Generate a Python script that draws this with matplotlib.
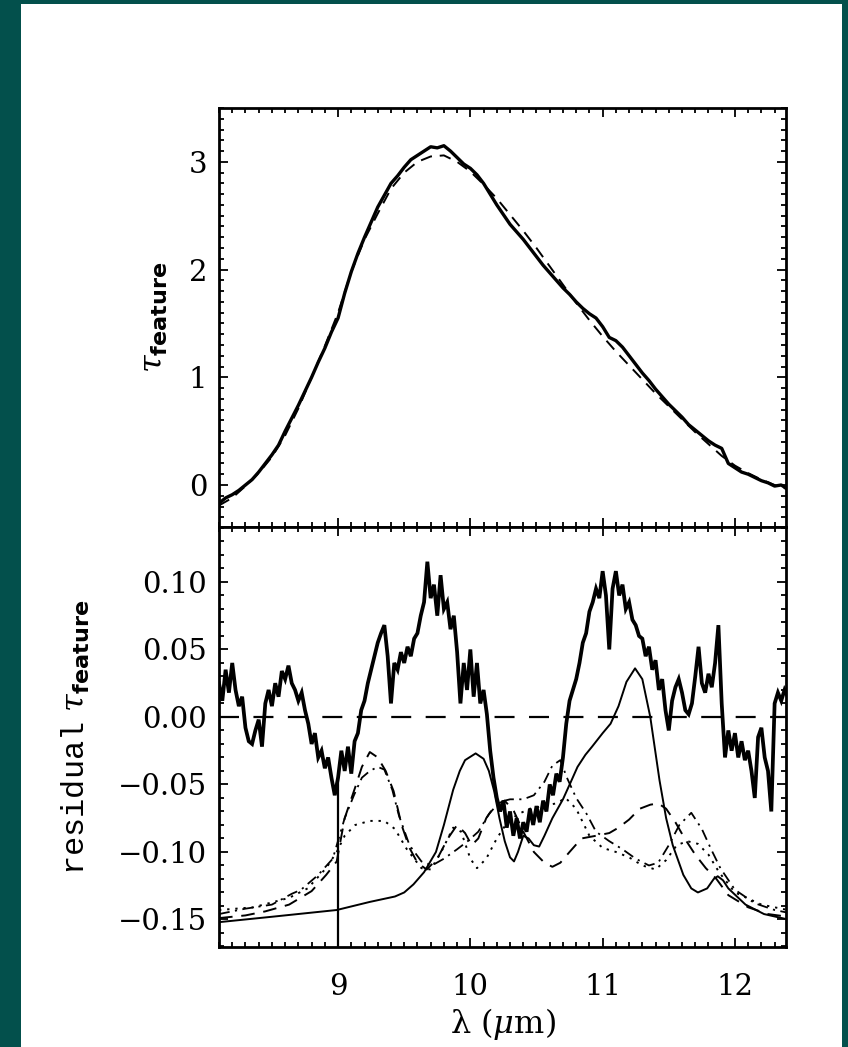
import numpy as np
import matplotlib
matplotlib.use('Agg')
import matplotlib.pyplot as plt
from matplotlib.ticker import MultipleLocator, FuncFormatter
from matplotlib.patches import Rectangle

plt.rcParams.update({
    'mathtext.fontset': 'custom',
    'mathtext.rm': 'DejaVu Serif',
    'mathtext.it': 'DejaVu Serif:italic',
    'mathtext.bf': 'DejaVu Sans:bold',
    'mathtext.tt': 'Liberation Mono',
    'mathtext.sf': 'DejaVu Sans',
    'font.family': 'DejaVu Serif',
})

# ---------------- data ----------------
# upper panel: observed optical depth (0.05 um sampling) and model (0.1 um sampling)
lam_obs = np.linspace(8.10, 12.40, 87)
tau_obs = [
    -0.17, -0.12, -0.09, -0.05, 0.00, 0.05, 0.12, 0.20, 0.28, 0.37,
    0.50, 0.62, 0.74, 0.87, 1.00, 1.14, 1.27, 1.42, 1.55, 1.78,
    1.98, 2.15, 2.30, 2.44, 2.58, 2.69, 2.80, 2.87, 2.95, 3.02,
    3.06, 3.10, 3.14, 3.13, 3.15, 3.10, 3.04, 2.98, 2.94, 2.88,
    2.80, 2.70, 2.60, 2.51, 2.42, 2.35, 2.28, 2.20, 2.12, 2.04,
    1.97, 1.90, 1.83, 1.77, 1.70, 1.64, 1.59, 1.55, 1.47, 1.37,
    1.34, 1.28, 1.20, 1.12, 1.04, 0.97, 0.89, 0.82, 0.75, 0.69,
    0.63, 0.56, 0.51, 0.46, 0.41, 0.37, 0.34, 0.20, 0.16, 0.12,
    0.10, 0.07, 0.04, 0.02, -0.01, 0.00, -0.04,
]
lam_mod = np.linspace(8.10, 12.40, 44)
tau_mod = [
    -0.19, -0.12, -0.01, 0.11, 0.26, 0.46, 0.71, 1.00, 1.29, 1.60,
    1.98, 2.28, 2.52, 2.75, 2.90, 3.00, 3.05, 3.06, 3.00, 2.91,
    2.79, 2.66, 2.51, 2.36, 2.20, 2.03, 1.86, 1.69, 1.53, 1.38,
    1.24, 1.11, 0.98, 0.85, 0.73, 0.61, 0.49, 0.38, 0.27, 0.18,
    0.11, 0.05, 0.00, -0.04,
]

# lower panel: residual (0.025 um sampling)
lam_res = np.linspace(8.10, 12.40, 173)
residual = [
    0.025, 0.012, 0.035, 0.018, 0.040, 0.020, 0.008, 0.015, -0.008, -0.018,
    -0.020, -0.010, -0.002, -0.022, 0.010, 0.020, 0.008, 0.025, 0.015, 0.034,
    0.028, 0.038, 0.025, 0.020, 0.012, 0.018, 0.005, -0.005, -0.020, -0.012,
    -0.030, -0.025, -0.038, -0.030, -0.045, -0.058, -0.045, -0.025, -0.040, -0.022,
    -0.042, -0.018, -0.012, 0.005, 0.012, 0.025, 0.035, 0.045, 0.055, 0.062,
    0.068, 0.045, 0.010, 0.040, 0.035, 0.048, 0.040, 0.052, 0.045, 0.058,
    0.062, 0.075, 0.085, 0.115, 0.088, 0.098, 0.075, 0.105, 0.080, 0.085,
    0.065, 0.075, 0.048, 0.010, 0.040, 0.020, 0.050, 0.015, 0.040, 0.010,
    0.020, 0.002, -0.025, -0.045, -0.060, -0.070, -0.062, -0.082, -0.070, -0.088,
    -0.075, -0.090, -0.078, -0.085, -0.068, -0.080, -0.066, -0.078, -0.062, -0.070,
    -0.050, -0.058, -0.042, -0.048, -0.030, -0.005, 0.012, 0.020, 0.028, 0.040,
    0.055, 0.062, 0.078, 0.085, 0.095, 0.088, 0.108, 0.090, 0.050, 0.095,
    0.108, 0.090, 0.098, 0.080, 0.085, 0.072, 0.068, 0.060, 0.058, 0.045,
    0.052, 0.035, 0.042, 0.020, 0.028, 0.005, -0.010, 0.012, 0.022, 0.028,
    0.018, 0.005, 0.002, 0.010, 0.030, 0.052, 0.025, 0.018, 0.032, 0.022,
    0.040, 0.068, 0.010, -0.030, -0.010, -0.025, -0.012, -0.030, -0.018, -0.032,
    -0.025, -0.040, -0.060, -0.015, -0.008, -0.030, -0.040, -0.070, 0.010, 0.018,
    0.012, 0.020, 0.015,
]
# bad-pixel spike in the residual at 9.0 um
spike_lam = [9.0, 9.0]
spike_val = [-0.045, -0.25]

# component profiles (offset), lower panel
lam_c1 = [8.10, 8.50, 8.99, 9.24, 9.43, 9.50, 9.57, 9.65, 9.74, 9.80, 9.87, 9.92,
          9.96, 10.04, 10.10, 10.14, 10.18, 10.22, 10.26, 10.30, 10.33, 10.36,
          10.40, 10.44, 10.48, 10.52, 10.56, 10.62, 10.70, 10.76, 10.81, 10.87,
          10.92, 11.00, 11.06, 11.12, 11.18, 11.245, 11.30, 11.36, 11.43, 11.48,
          11.53, 11.61, 11.67, 11.72, 11.79, 11.84, 11.87, 11.91, 11.95, 12.08,
          12.22, 12.40]
comp_solid = [-0.152, -0.148, -0.143, -0.137, -0.133, -0.130, -0.124, -0.115, -0.100,
              -0.080, -0.054, -0.040, -0.032, -0.027, -0.031, -0.040, -0.055, -0.075,
              -0.092, -0.104, -0.107, -0.100, -0.088, -0.090, -0.095, -0.096, -0.088,
              -0.075, -0.061, -0.048, -0.037, -0.028, -0.022, -0.012, -0.005, 0.008,
              0.026, 0.036, 0.028, 0.000, -0.047, -0.075, -0.095, -0.117, -0.127,
              -0.130, -0.127, -0.120, -0.118, -0.121, -0.127, -0.139, -0.146, -0.150]

lam_c2 = [8.10, 8.30, 8.45, 8.63, 8.80, 8.91, 8.99, 9.05, 9.13, 9.18, 9.24, 9.30,
          9.36, 9.42, 9.48, 9.54, 9.60, 9.67, 9.75, 9.83, 9.90, 9.96, 10.01, 10.06,
          10.12, 10.19, 10.26, 10.33, 10.40, 10.48, 10.56, 10.62, 10.68, 10.75,
          10.84, 10.95, 11.05, 11.12, 11.20, 11.28, 11.36, 11.42, 11.48, 11.55,
          11.62, 11.70, 11.78, 11.86, 11.95, 12.10, 12.25, 12.40]
comp_dashed = [-0.149, -0.147, -0.144, -0.139, -0.129, -0.117, -0.107, -0.075, -0.052,
               -0.037, -0.026, -0.030, -0.040, -0.055, -0.080, -0.097, -0.108, -0.113,
               -0.105, -0.090, -0.080, -0.086, -0.095, -0.090, -0.075, -0.065, -0.062,
               -0.070, -0.085, -0.100, -0.108, -0.111, -0.108, -0.100, -0.090, -0.088,
               -0.086, -0.082, -0.076, -0.068, -0.065, -0.064, -0.068, -0.078, -0.090,
               -0.102, -0.112, -0.120, -0.132, -0.141, -0.146, -0.148]

lam_c3 = [8.10, 8.30, 8.50, 8.65, 8.72, 8.85, 8.96, 9.05, 9.12, 9.18, 9.24, 9.30,
          9.35, 9.41, 9.46, 9.54, 9.63, 9.71, 9.80, 9.90, 9.98, 10.06, 10.14, 10.22,
          10.30, 10.40, 10.48, 10.56, 10.62, 10.68, 10.73, 10.80, 10.88, 10.95,
          11.05, 11.15, 11.25, 11.35, 11.42, 11.50, 11.58, 11.67, 11.75, 11.82,
          11.89, 12.00, 12.15, 12.30, 12.40]
comp_dashdot = [-0.146, -0.142, -0.139, -0.131, -0.128, -0.117, -0.105, -0.075, -0.058,
                -0.045, -0.040, -0.037, -0.039, -0.054, -0.073, -0.095, -0.107, -0.110,
                -0.105, -0.098, -0.092, -0.085, -0.072, -0.063, -0.061, -0.061, -0.058,
                -0.048, -0.036, -0.032, -0.045, -0.060, -0.072, -0.085, -0.092, -0.098,
                -0.105, -0.110, -0.108, -0.095, -0.080, -0.071, -0.083, -0.098, -0.112,
                -0.128, -0.138, -0.143, -0.145]

lam_c4 = [8.10, 8.36, 8.63, 8.77, 8.91, 8.99, 9.05, 9.13, 9.24, 9.35, 9.43, 9.52,
          9.63, 9.70, 9.78, 9.87, 9.93, 10.00, 10.05, 10.12, 10.20, 10.28, 10.36,
          10.45, 10.55, 10.65, 10.72, 10.80, 10.90, 11.00, 11.10, 11.20, 11.30,
          11.40, 11.48, 11.56, 11.64, 11.72, 11.80, 11.88, 12.00, 12.20, 12.40]
comp_dotted = [-0.143, -0.141, -0.134, -0.127, -0.112, -0.100, -0.088, -0.080, -0.077,
               -0.077, -0.083, -0.098, -0.112, -0.113, -0.100, -0.082, -0.085, -0.105,
               -0.112, -0.105, -0.090, -0.078, -0.072, -0.068, -0.066, -0.064, -0.060,
               -0.068, -0.088, -0.097, -0.100, -0.104, -0.110, -0.113, -0.106, -0.095,
               -0.092, -0.094, -0.102, -0.115, -0.130, -0.139, -0.143]

zero_level = [0.0, 0.0]

xticks = [9, 10, 11, 12]
top_yticks = [0, 1, 2, 3]
bot_yticks = [-0.15, -0.10, -0.05, 0.00, 0.05, 0.10]

# ---------------- figure ----------------
W, H = 848, 1047
fig = plt.figure(figsize=(W / 100, H / 100), dpi=100)
fig.patch.set_facecolor('#03504C')
fig.add_artist(Rectangle((21 / W, 0), (842 - 21) / W, (H - 4) / H,
                         transform=fig.transFigure, facecolor='white',
                         edgecolor='none', zorder=-10))

left, right = 219 / W, 786 / W
ax1 = fig.add_axes([left, 1 - 527 / H, right - left, (527 - 108) / H])
ax2 = fig.add_axes([left, 1 - 947 / H, right - left, (947 - 527) / H])

tick_fs = 21

def style(ax):
    for sp in ax.spines.values():
        sp.set_linewidth(2.0)
    ax.tick_params(which='both', direction='in', top=True, right=True,
                   width=1.3, labelsize=tick_fs)
    ax.tick_params(which='major', length=6.5)
    ax.tick_params(which='minor', length=3.3)
    ax.tick_params(axis='y', pad=8.5)
    ax.tick_params(axis='x', pad=19)
    ax.set_xlim(8.10, 12.386)
    ax.set_xticks(xticks)
    ax.xaxis.set_minor_locator(MultipleLocator(0.1))

# upper panel
style(ax1)
ax1.plot(lam_obs, tau_obs, color='black', lw=2.4)
ax1.plot(lam_mod, tau_mod, color='black', lw=1.4, dashes=(6, 4))
ax1.set_ylim(-0.39, 3.50)
ax1.set_yticks(top_yticks)
ax1.yaxis.set_minor_locator(MultipleLocator(0.1))
ax1.tick_params(axis='x', labelbottom=False)
ax1.set_ylabel(r'$\tau_{\mathbf{feature}}$', fontsize=23)
ax1.yaxis.set_label_coords(-0.086, 0.5)

# lower panel
style(ax2)
ax2.plot(lam_res, residual, color='black', lw=2.7, solid_joinstyle='miter')
ax2.plot(spike_lam, spike_val, color='black', lw=1.6)
ax2.plot([8.10, 12.386], zero_level, color='black', lw=1.6, dashes=(9, 6.5))
ax2.plot(lam_c1, comp_solid, color='black', lw=1.4)
ax2.plot(lam_c2, comp_dashed, color='black', lw=1.4, dashes=(7, 4.5))
ax2.plot(lam_c3, comp_dashdot, color='black', lw=1.3, dashes=(6, 3, 1.2, 3))
ax2.plot(lam_c4, comp_dotted, color='black', lw=1.4, dashes=(1.2, 3))
ax2.set_ylim(-0.1704, 0.1407)
ax2.set_yticks(bot_yticks)
ax2.yaxis.set_minor_locator(MultipleLocator(0.01))
ax2.yaxis.set_major_formatter(FuncFormatter(
    lambda v, p: f'{round(v, 2) + 0.0:.2f}'.replace('-', '\u2212')))
ax2.set_ylabel(r'$\mathtt{residual}\ \tau_{\mathbf{feature}}$', fontsize=23)
ax2.yaxis.set_label_coords(-0.224, 0.5)
ax2.set_xlabel(r'λ ($\mu$m)', fontsize=23)
ax2.xaxis.set_label_coords(0.5, -0.14)

fig.savefig('out.png', dpi=100, facecolor=fig.get_facecolor())
